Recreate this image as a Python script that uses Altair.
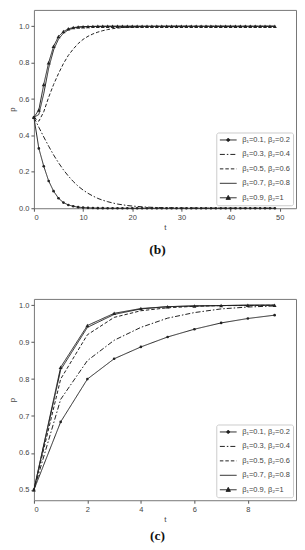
import altair as alt
import pandas as pd

SERIES = ["β₁=0.1, β₂=0.2", "β₁=0.3, β₂=0.4", "β₁=0.5, β₂=0.6",
          "β₁=0.7, β₂=0.8", "β₁=0.9, β₂=1"]

# ---- panel (b) ----
t_b = list(range(50))
b_s1 = [0.5, 0.329, 0.231, 0.150, 0.094, 0.055, 0.031, 0.018, 0.011, 0.006,
        0.0035, 0.002, 0.001, 0.0006, 0.0003, 0.0002, 0.0001, 0.0, 0.0, 0.0,
        0.0, 0.0, 0.0, 0.0, 0.0, 0.0, 0.0, 0.0, 0.0, 0.0,
        0.0, 0.0, 0.0, 0.0, 0.0, 0.0, 0.0, 0.0, 0.0, 0.0,
        0.0, 0.0, 0.0, 0.0, 0.0, 0.0, 0.0, 0.0, 0.0, 0.0]
b_s2 = [0.5, 0.445, 0.392, 0.341, 0.293, 0.25, 0.211, 0.177, 0.147, 0.121,
        0.1, 0.082, 0.067, 0.054, 0.044, 0.036, 0.029, 0.023, 0.019, 0.015,
        0.012, 0.01, 0.008, 0.006, 0.005, 0.004, 0.003, 0.003, 0.002, 0.002,
        0.001, 0.001, 0.001, 0.001, 0.0005, 0.0005, 0.0003, 0.0003, 0.0002, 0.0002,
        0.0001, 0.0001, 0.0, 0.0, 0.0, 0.0, 0.0, 0.0, 0.0, 0.0]
b_s3 = [0.5, 0.478, 0.53, 0.61, 0.68, 0.74, 0.795, 0.84, 0.875, 0.905,
        0.928, 0.945, 0.958, 0.968, 0.976, 0.982, 0.987, 0.99, 0.993, 0.995,
        0.996, 0.997, 0.998, 0.9985, 0.999, 0.9993, 0.9995, 0.9997, 0.9998, 0.9999,
        1.0, 1.0, 1.0, 1.0, 1.0, 1.0, 1.0, 1.0, 1.0, 1.0,
        1.0, 1.0, 1.0, 1.0, 1.0, 1.0, 1.0, 1.0, 1.0, 1.0]
b_s4 = [0.5, 0.515, 0.63, 0.77, 0.87, 0.93, 0.962, 0.98, 0.99, 0.995,
        0.997, 0.998, 0.999, 0.9995, 0.9997, 1.0, 1.0, 1.0, 1.0, 1.0,
        1.0, 1.0, 1.0, 1.0, 1.0, 1.0, 1.0, 1.0, 1.0, 1.0,
        1.0, 1.0, 1.0, 1.0, 1.0, 1.0, 1.0, 1.0, 1.0, 1.0,
        1.0, 1.0, 1.0, 1.0, 1.0, 1.0, 1.0, 1.0, 1.0, 1.0]
b_s5 = [0.5, 0.54, 0.68, 0.80, 0.89, 0.944, 0.971, 0.986, 0.993, 0.996,
        0.998, 0.999, 0.9995, 0.9997, 1.0, 1.0, 1.0, 1.0, 1.0, 1.0,
        1.0, 1.0, 1.0, 1.0, 1.0, 1.0, 1.0, 1.0, 1.0, 1.0,
        1.0, 1.0, 1.0, 1.0, 1.0, 1.0, 1.0, 1.0, 1.0, 1.0,
        1.0, 1.0, 1.0, 1.0, 1.0, 1.0, 1.0, 1.0, 1.0, 1.0]

# ---- panel (c) ----
t_c = list(range(10))
c_s1 = [0.5, 0.684, 0.80, 0.855, 0.887, 0.914, 0.935, 0.952, 0.964, 0.973]
c_s2 = [0.5, 0.745, 0.85, 0.905, 0.94, 0.965, 0.98, 0.99, 0.995, 0.998]
c_s3 = [0.5, 0.80, 0.92, 0.967, 0.985, 0.993, 0.997, 0.999, 0.999, 1.0]
c_s4 = [0.5, 0.825, 0.94, 0.975, 0.99, 0.996, 0.998, 0.999, 1.0, 1.0]
c_s5 = [0.5, 0.832, 0.945, 0.978, 0.991, 0.996, 0.998, 0.999, 1.0, 1.0]

b_ticks_x = [0, 10, 20, 30, 40, 50]
b_ticks_y = [0.0, 0.2, 0.4, 0.6, 0.8, 1.0]
c_ticks_x = [0, 2, 4, 6, 8]
c_ticks_y = [0.5, 0.6, 0.7, 0.8, 0.9, 1.0]

# ---- styles ----
INK = "#222222"
DASHES = [[1, 0], [5, 2, 1.5, 2], [3.5, 2], [1, 0], [1, 0]]
LINE = "M-2.1,0H2.1"
SHAPE_EXPR = (
    "datum.value === '" + SERIES[0] + "' ? "
    "'M-2.1,0H2.1M-0.35,0A0.35,0.35,0,1,0,0.35,0A0.35,0.35,0,1,0,-0.35,0Z' : "
    "datum.value === '" + SERIES[4] + "' ? "
    "'M-2.1,0H2.1M0,-0.6L0.55,0.4L-0.55,0.4Z' : '" + LINE + "'"
)


def long_frame(t, cols):
    rows = []
    for name, vals in zip(SERIES, cols):
        for ti, v in zip(t, vals):
            rows.append({"t": ti, "p": v, "series": name})
    return pd.DataFrame(rows)


def panel(df, xdom, xticks, ydom, yticks, caption, height, cap_offset):
    x = alt.X("t:Q", scale=alt.Scale(domain=xdom, nice=False, zero=False),
              axis=alt.Axis(values=xticks, title="t", format="d"))
    y = alt.Y("p:Q", scale=alt.Scale(domain=ydom, nice=False, zero=False),
              axis=alt.Axis(values=yticks, title="p", format=".1f",
                            titlePadding=2))
    legend = alt.Legend(
        title=None, orient="bottom-right", offset=3.5,
        labelFont="Liberation Sans", labelFontSize=7.5, labelColor="#444444",
        symbolSize=64, symbolStrokeWidth=1, symbolStrokeColor=INK,
        symbolFillColor=INK, symbolOffset=4.5, labelOffset=9.5,
        symbolType=alt.ExprRef(expr=SHAPE_EXPR),
        rowPadding=6.5, padding=3, strokeColor="#cccccc", fillColor="white",
        cornerRadius=2,
    )
    lines = alt.Chart(df).mark_line(color=INK, strokeWidth=1).encode(
        x=x, y=y,
        strokeDash=alt.StrokeDash("series:N",
                                  scale=alt.Scale(domain=SERIES, range=DASHES),
                                  legend=legend),
    )
    dots = alt.Chart(df).transform_filter(
        alt.datum.series == SERIES[0]
    ).mark_point(shape="circle", filled=True, size=7, color=INK, opacity=1).encode(x=x, y=y)
    tris = alt.Chart(df).transform_filter(
        alt.datum.series == SERIES[4]
    ).mark_point(shape="triangle-up", filled=True, size=16, color=INK, opacity=1).encode(x=x, y=y)
    return alt.layer(lines, dots, tris).properties(
        width=263, height=height,
        title=alt.TitleParams(caption, orient="bottom", anchor="middle",
                              font="Liberation Serif", fontSize=13.5,
                              fontWeight="bold", color="#111111",
                              offset=cap_offset, dx=-7.5),
    )


top = panel(long_frame(t_b, [b_s1, b_s2, b_s3, b_s4, b_s5]),
            [0, 53.3], b_ticks_x, [0, 1.09], b_ticks_y, "(b)", 199, 11.5)
bottom = panel(long_frame(t_c, [c_s1, c_s2, c_s3, c_s4, c_s5]),
               [0, 9.8], c_ticks_x, [0.472, 1.017], c_ticks_y, "(c)", 202, 5.5)

chart = alt.vconcat(top, bottom, spacing=41).resolve_scale(
    strokeDash="independent"
).resolve_legend(strokeDash="independent").properties(
    padding=0
).configure_view(
    stroke="#777777", strokeWidth=1
).configure_axis(
    domain=False, grid=False,
    labelFont="Liberation Sans", labelFontSize=7.5, labelColor="#444444",
    tickColor="#555555", tickSize=3, labelPadding=2,
    titleFont="Liberation Sans", titleFontSize=8, titleFontWeight="normal",
    titleColor="#444444", titlePadding=3,
)

chart.save("out.html", embed_options={"renderer": "svg", "actions": False})
